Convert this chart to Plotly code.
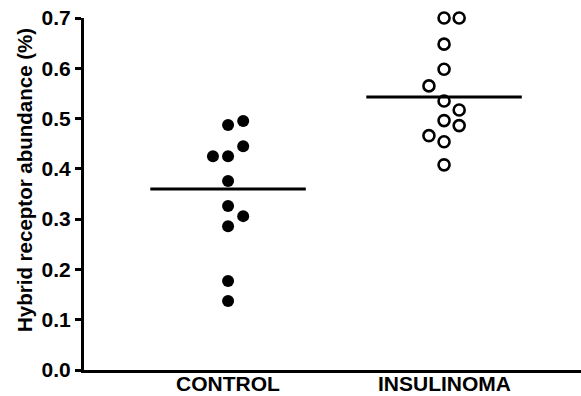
import plotly.graph_objects as go

categories = ["CONTROL", "INSULINOMA"]
control_values = [0.487, 0.495, 0.445, 0.425, 0.425, 0.376, 0.326, 0.306, 0.286, 0.177, 0.137]
control_slots = [0, 1, 1, -1, 0, 0, 0, 1, 0, 0, 0]
insulinoma_values = [0.70, 0.70, 0.648, 0.598, 0.565, 0.535, 0.517, 0.496, 0.486, 0.466, 0.454, 0.408]
insulinoma_slots = [0, 1, 0, 0, -1, 0, 1, 0, 1, -1, 0, 0]
group_means = [0.36, 0.543]
y_ticks = [0.0, 0.1, 0.2, 0.3, 0.4, 0.5, 0.6, 0.7]
y_tick_labels = ["0.0", "0.1", "0.2", "0.3", "0.4", "0.5", "0.6", "0.7"]

positions = [1, 2]
slot_w = 0.07
half_line = 0.36
FONT = "Liberation Sans, Arial, Helvetica, sans-serif"

fig = go.Figure()
fig.add_trace(go.Scatter(
    x=[positions[0] + s * slot_w for s in control_slots], y=control_values,
    mode="markers", marker=dict(symbol="circle", size=12, color="black"),
    cliponaxis=False, showlegend=False))
fig.add_trace(go.Scatter(
    x=[positions[1] + s * slot_w for s in insulinoma_slots], y=insulinoma_values,
    mode="markers",
    marker=dict(symbol="circle-open", size=11, color="black", line=dict(width=2.6, color="black")),
    cliponaxis=False, showlegend=False))
for p, m in zip(positions, group_means):
    fig.add_trace(go.Scatter(x=[p - half_line, p + half_line], y=[m, m], mode="lines",
                             line=dict(color="black", width=3), showlegend=False, cliponaxis=False))

annotations = [dict(text="<b>Hybrid receptor abundance (%)</b>", textangle=-90,
                    xref="paper", yref="paper", x=-(84 - 24) / 497, y=(370 - 180) / 352,
                    xanchor="center", yanchor="middle", showarrow=False,
                    font=dict(size=20.5, family=FONT, color="black"))]
for p, c in zip(positions, categories):
    annotations.append(dict(text="<b>%s</b>" % c, xref="x", yref="paper", x=p, y=0,
                            xanchor="center", yanchor="middle", yshift=-13, showarrow=False,
                            borderpad=0, font=dict(size=21, family=FONT, color="black")))

fig.update_layout(
    width=581, height=396,
    margin=dict(l=84, r=0, t=18, b=26, autoexpand=False),
    paper_bgcolor="white", plot_bgcolor="white",
    font=dict(family=FONT, color="black", size=20),
    xaxis=dict(range=[0.333, 2.634], showticklabels=False,
               showline=True, linecolor="black", linewidth=3, ticks="", showgrid=False,
               zeroline=False, automargin=False),
    yaxis=dict(range=[0, 0.7], tickvals=y_ticks, ticktext=["<b>%s</b>" % t for t in y_tick_labels],
               showline=True, linecolor="black", linewidth=3, ticks="outside", ticklen=6,
               tickwidth=2.5, tickcolor="black", showgrid=False, zeroline=False, automargin=False,
               tickfont=dict(size=21, family=FONT)),
    annotations=annotations,
)

fig.write_html("out.html")
